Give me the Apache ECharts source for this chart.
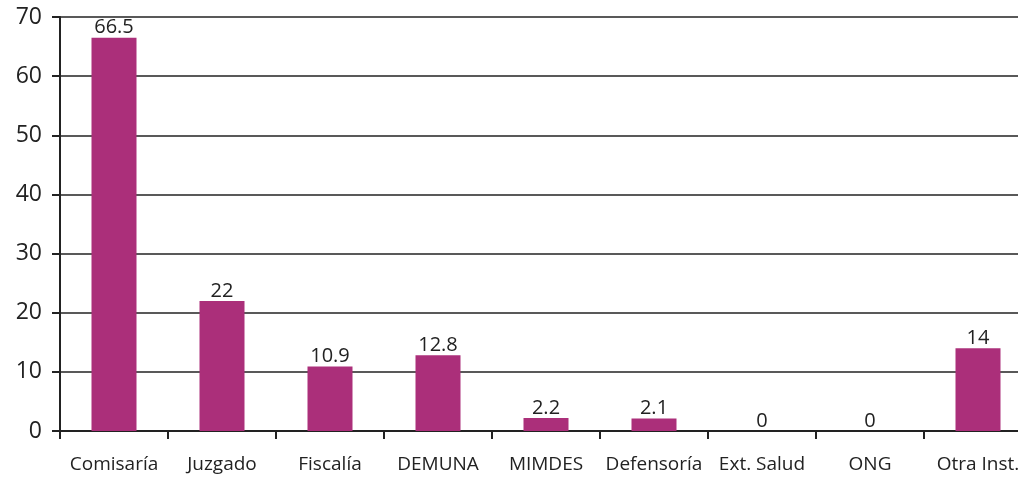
<!DOCTYPE html>
<html>
<head>
<meta charset="utf-8">
<script src="https://cdn.jsdelivr.net/npm/echarts@6/dist/echarts.min.js"></script>
<style>
  html, body { margin: 0; padding: 0; background: #fff; }
  #main { width: 1018px; height: 477px; }
</style>
</head>
<body>
<div id="main"></div>
<script>
var categories = ['Comisaría', 'Juzgado', 'Fiscalía', 'DEMUNA', 'MIMDES', 'Defensoría', 'Ext. Salud', 'ONG', 'Otra Inst.'];
var values = [66.5, 22, 10.9, 12.8, 2.2, 2.1, 0, 0, 14];
var yTicks = [0, 10, 20, 30, 40, 50, 60, 70];

var chartDom = document.getElementById('main');
var myChart = echarts.init(chartDom);
var option = {
    animation: false,
    textStyle: { fontFamily: 'Open Sans' },
    grid: { left: 60, top: 17, right: -14, bottom: 46, containLabel: false, outerBoundsMode: 'none' },
    xAxis: {
        type: 'category',
        data: categories,
        axisLine: { lineStyle: { color: '#222', width: 2 } },
        axisTick: { show: true, length: 8, interval: 0, lineStyle: { color: '#222', width: 2 } },
        axisLabel: { color: '#222', fontSize: 19, margin: 24, interval: 0, overflow: 'none' }
    },
    yAxis: {
        type: 'value',
        min: yTicks[0],
        max: yTicks[yTicks.length - 1],
        interval: 10,
        axisLine: { show: true, lineStyle: { color: '#222', width: 2 } },
        axisTick: { show: true, length: 8, lineStyle: { color: '#222', width: 2 } },
        axisLabel: { color: '#222', fontSize: 23, margin: 18 },
        splitLine: { lineStyle: { color: '#222', width: 1.5 } }
    },
    series: [{
        type: 'bar',
        data: values,
        barWidth: 45,
        itemStyle: { color: '#ab2f7a' },
        label: {
            show: true,
            position: 'top',
            distance: 0,
            color: '#222',
            fontSize: 20
        }
    }]
};
myChart.setOption(option);
</script>
</body>
</html>
